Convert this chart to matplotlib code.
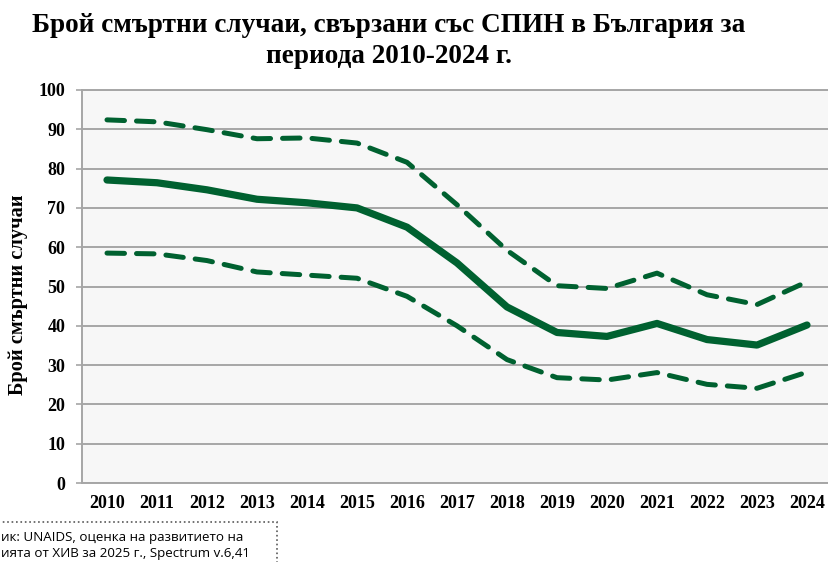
import matplotlib.pyplot as plt
from matplotlib.patches import Rectangle

years = list(range(2010, 2025))
deaths = [77.1, 76.4, 74.6, 72.2, 71.3, 70.0, 65.1, 56.0, 44.8, 38.3, 37.3, 40.6, 36.5, 35.1, 40.2]
upper = [92.4, 91.9, 89.9, 87.6, 87.8, 86.5, 81.6, 70.8, 59.2, 50.2, 49.5, 53.4, 47.9, 45.4, 51.2]
lower = [58.5, 58.3, 56.6, 53.7, 52.9, 52.1, 47.5, 40.0, 31.4, 26.8, 26.2, 28.1, 25.1, 24.1, 28.2]

title = "Брой смъртни случаи, свързани със СПИН в България за\nпериода 2010-2024 г."
ylabel = "Брой смъртни случаи"
# the source box is cropped at the left edge in the original
source_lines = ["ик: UNAIDS, оценка на развитието на",
                "ията от ХИВ за 2025 г., Spectrum v.6,41"]

green = "#006130"
grid_gray = "#a6a6a6"
serif = "Liberation Serif"

fig = plt.figure(figsize=(8.29, 5.62), dpi=100)
W, H = 829, 562
ax = fig.add_axes([82 / W, 1 - 483 / H, (832 - 82) / W, (483 - 90) / H])
ax.set_facecolor("#f7f7f7")

x = list(range(len(years)))
ax.plot(x, upper, color=green, lw=3.6, linestyle=(0, (3.5, 2.4)), dash_capstyle="round", zorder=3)
ax.plot(x, lower, color=green, lw=3.6, linestyle=(0, (3.5, 2.4)), dash_capstyle="round", zorder=3)
ax.plot(x, deaths, color=green, lw=5.2, solid_capstyle="round", solid_joinstyle="round", zorder=4)

ax.set_xlim(-0.5, len(years) - 0.5)
ax.set_ylim(0, 100)
ax.set_yticks(range(0, 101, 10))
ax.set_xticks(x)
ax.set_xticklabels([str(y) for y in years])
ax.yaxis.grid(True, color=grid_gray, lw=1.4)
ax.set_axisbelow(True)
for s in ax.spines.values():
    s.set_color(grid_gray)
    s.set_linewidth(1.4)
ax.tick_params(axis="y", length=4, color=grid_gray, width=1.2, pad=8)
ax.tick_params(axis="x", length=0, pad=9)
for lab in ax.get_xticklabels() + ax.get_yticklabels():
    lab.set_fontfamily(serif)
    lab.set_fontweight("bold")
    lab.set_fontsize(13)

fig.text(18 / W, 1 - 295 / H, ylabel, rotation=90, ha="center", va="center",
         fontfamily=serif, fontweight="bold", fontsize=14.7)
fig.text(389 / W, 1 - 41 / H, title, ha="center", va="center", fontfamily=serif,
         fontweight="bold", fontsize=19.6, linespacing=1.3)

box = Rectangle((-20 / W, 1 - 600 / H), 297 / W, 78 / H, transform=fig.transFigure,
                fill=False, linestyle=":", edgecolor="#595959", lw=1.2)
fig.patches.append(box)
fig.text(1 / W, 1 - 537 / H, source_lines[0], ha="left", va="center",
         fontfamily="Open Sans", fontsize=9.6)
fig.text(1 / W, 1 - 553 / H, source_lines[1], ha="left", va="center",
         fontfamily="Open Sans", fontsize=9.6)

fig.savefig("out.png", dpi=100)
